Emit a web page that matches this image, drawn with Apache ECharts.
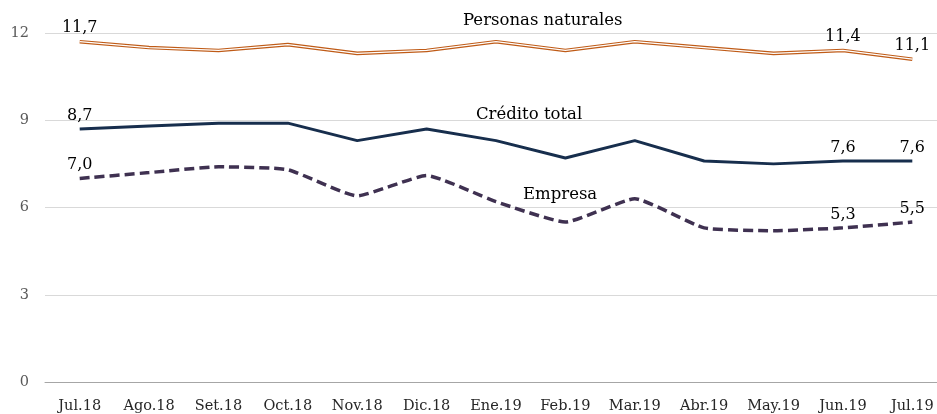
<!DOCTYPE html>
<html>
<head>
<meta charset="utf-8">
<script src="https://cdn.jsdelivr.net/npm/echarts@6/dist/echarts.min.js"></script>
<style>
  html, body { margin: 0; padding: 0; background: #fff; overflow: hidden; }
  #chart { width: 950px; height: 414px; }
</style>
</head>
<body>
<div id="chart"></div>
<script>
const months = ['Jul.18', 'Ago.18', 'Set.18', 'Oct.18', 'Nov.18', 'Dic.18', 'Ene.19', 'Feb.19', 'Mar.19', 'Abr.19', 'May.19', 'Jun.19', 'Jul.19']
const personas = [11.7, 11.5, 11.4, 11.6, 11.3, 11.4, 11.7, 11.4, 11.7, 11.5, 11.3, 11.4, 11.1]
const credito = [8.7, 8.8, 8.9, 8.9, 8.3, 8.7, 8.3, 7.7, 8.3, 7.6, 7.5, 7.6, 7.6]
const empresa = [7.0, 7.2, 7.4, 7.3, 6.4, 7.1, 6.2, 5.5, 6.3, 5.3, 5.2, 5.3, 5.5]
const labelled = [0, 11, 12]

const font = 'DejaVu Serif'

function fmt(p) {
  return labelled.includes(p.dataIndex) ? p.value.toFixed(1).replace('.', ',') : ''
}

const dataLabel = {
  show: true,
  position: 'top',
  distance: 5,
  formatter: fmt,
  color: '#000',
  fontFamily: font,
  fontSize: 16
}

// labels on a line need a symbol, so use a transparent one
const hidden = { symbol: 'circle', symbolSize: 1, showSymbol: true, itemStyle: { color: 'rgba(0,0,0,0)' } }

const chart = echarts.init(document.getElementById('chart'))
chart.setOption({
  animation: false,
  textStyle: { fontFamily: font },
  grid: { left: 45, top: 33, bottom: 32, right: 3 },
  xAxis: {
    type: 'category',
    data: months,
    axisTick: { show: false },
    axisLine: { lineStyle: { color: '#A6A6A6', width: 1 } },
    axisLabel: { color: '#262626', fontSize: 14.5, margin: 17, fontFamily: font }
  },
  yAxis: {
    type: 'value',
    min: 0,
    max: 12,
    interval: 3,
    axisLabel: { color: '#595959', fontSize: 14.5, margin: 16, fontFamily: font },
    splitLine: { lineStyle: { color: '#D9D9D9' } }
  },
  series: [
    {
      name: 'Personas naturales',
      type: 'line',
      data: personas,
      ...hidden,
      lineStyle: { color: '#BF5B17', width: 3.6 },
      label: dataLabel,
      labelLayout: { hideOverlap: false },
      z: 2
    },
    {
      name: 'Personas naturales (interior)',
      type: 'line',
      data: personas,
      symbol: 'none',
      lineStyle: { color: '#FFFFFF', width: 1.3 },
      z: 3
    },
    {
      name: 'Crédito total',
      type: 'line',
      data: credito,
      ...hidden,
      lineStyle: { color: '#172E4D', width: 3 },
      label: dataLabel
    },
    {
      name: 'Empresa',
      type: 'line',
      data: empresa,
      ...hidden,
      smooth: 0.15,
      lineStyle: { color: '#3F3151', width: 3.5, type: [10, 5] },
      label: dataLabel
    }
  ],
  graphic: [
    { type: 'text', left: 463, top: 12, style: { text: 'Personas naturales', font: '16.5px "DejaVu Serif"', fill: '#000' } },
    { type: 'text', left: 476, top: 106, style: { text: 'Crédito total', font: '16.5px "DejaVu Serif"', fill: '#000' } },
    { type: 'text', left: 523, top: 186, style: { text: 'Empresa', font: '16.5px "DejaVu Serif"', fill: '#000' } }
  ]
})
</script>
</body>
</html>
